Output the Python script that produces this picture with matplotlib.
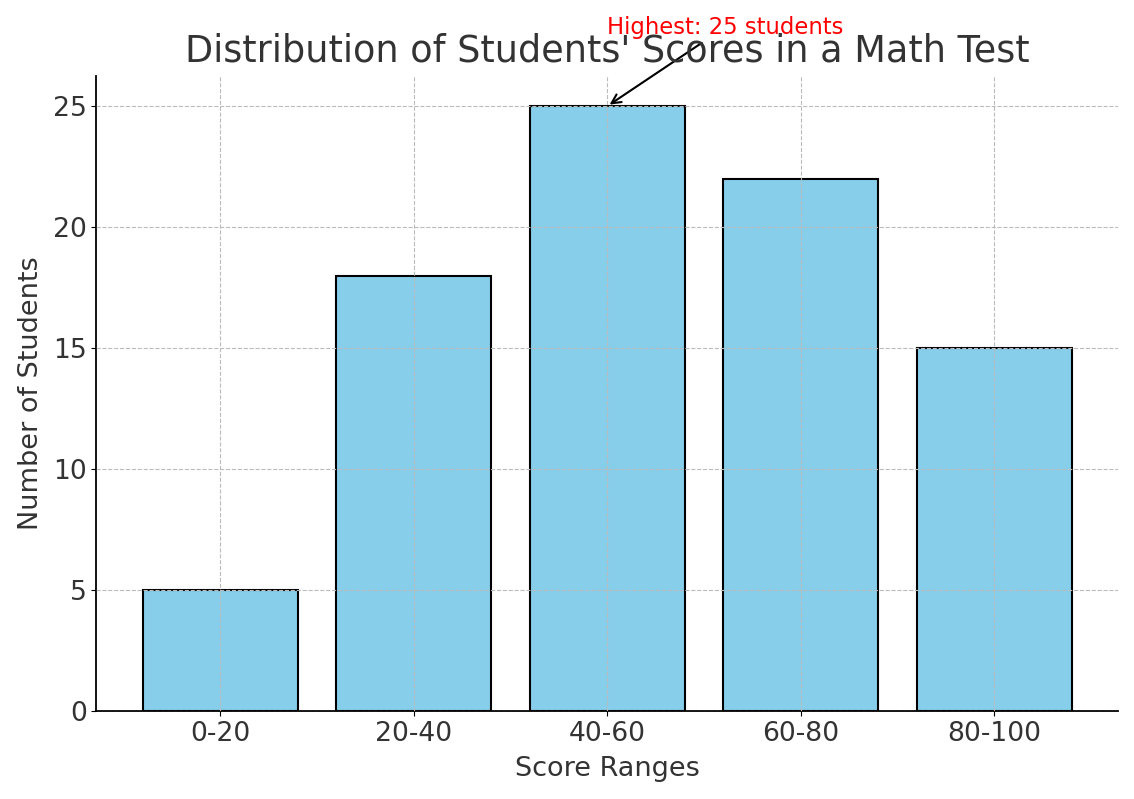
import matplotlib.pyplot as plt

# data
score_ranges = ["0-20", "20-40", "40-60", "60-80", "80-100"]
num_students = [5, 18, 25, 22, 15]

text_col = "#333333"
plt.rcParams["font.family"] = "DejaVu Sans"

fig, ax = plt.subplots(figsize=(11.34, 7.99), dpi=100)

ax.bar(score_ranges, num_students, color="skyblue", edgecolor="black", linewidth=1.5, width=0.8)

# annotate the highest bar
top = max(num_students)
top_idx = num_students.index(top)
ax.annotate(f"Highest: {top} students", xy=(top_idx, top), xytext=(top_idx, top + 3.0),
            color="red", fontsize=16.4, ha="left",
            arrowprops=dict(arrowstyle="->", color="black", lw=1.5))

ax.set_title("Distribution of Students' Scores in a Math Test", fontsize=26.4, color=text_col, pad=10.5)
ax.set_xlabel("Score Ranges", fontsize=19.5, color=text_col, labelpad=6.5)
ax.set_ylabel("Number of Students", fontsize=19.5, color=text_col, labelpad=6.5)
ax.tick_params(labelsize=19.2, colors=text_col)
ax.tick_params(axis="both", color="black")

ax.grid(True, linestyle="--", color="#bbbbbb", linewidth=0.8)
ax.set_axisbelow(False)
ax.spines["top"].set_visible(False)
ax.spines["right"].set_visible(False)
ax.spines["left"].set_linewidth(1.3)
ax.spines["bottom"].set_linewidth(1.3)

ax.set_ylim(0, 26.25)
fig.subplots_adjust(left=0.085, right=0.986, top=0.905, bottom=0.11)

plt.savefig("out.png")
